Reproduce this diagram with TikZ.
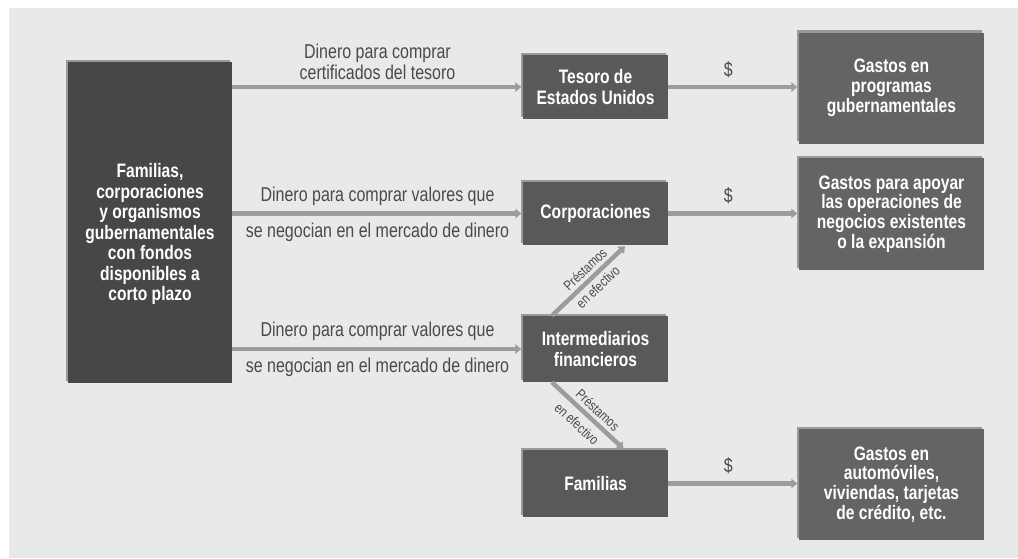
\documentclass[tikz,border=0pt]{standalone}
\usepackage{fontspec}
\setmainfont{Liberation Sans}[FakeStretch=0.8]
\usetikzlibrary{arrows.meta,shadows,calc}
\definecolor{bg}{HTML}{E8E9EB}
\definecolor{bigcol}{HTML}{474747}
\definecolor{boxcol}{HTML}{595959}
\definecolor{gcol}{HTML}{646464}
\definecolor{shcol}{HTML}{9A9A9A}
\definecolor{arrcol}{HTML}{9C9C9C}
\definecolor{lblcol}{HTML}{4A4A4A}
\begin{document}
\begin{tikzpicture}[x=1pt,y=-1pt,
  basebox/.style={text=white, font=\bfseries\fontsize{19.5}{20.5}\selectfont, align=center, inner sep=0pt,
    general shadow={fill=shcol, shadow xshift=-2.5pt, shadow yshift=2.5pt}},
  bigbox/.style={basebox, fill=bigcol, minimum width=164pt, minimum height=321pt},
  box/.style={basebox, fill=boxcol, minimum width=145pt, minimum height=64pt},
  gbox/.style={basebox, fill=gcol, minimum width=185pt, minimum height=111pt, font=\bfseries\fontsize{19.5}{19.8}\selectfont},
  boxtext/.style={text=white, font=\bfseries\fontsize{19.5}{20.5}\selectfont, align=center, inner sep=0pt},
  lbl/.style={text=lblcol, font=\fontsize{20}{21}\selectfont, align=center, inner sep=0pt},
  small/.style={text=lblcol, font=\fontsize{14}{15}\selectfont, inner sep=0pt},
  flow/.style={draw=arrcol, line width=4.5pt, -{Triangle[length=6pt,width=9.5pt]}, shorten >=1.5pt}
]
\useasboundingbox (0,0) rectangle (1018,558);
\fill[white] (0,0) rectangle (1018,558);
\fill[bg] (9,8) rectangle (1018,558);

% boxes
\node[bigbox] (fam) at (150,222.5) {};
\node[boxtext] (famtxt) at (150,234) {Familias,\\corporaciones\\y organismos\\gubernamentales\\con fondos\\disponibles a\\corto plazo};

\node[box] (tes) at (595.5,87) {Tesoro de\\Estados Unidos};
\node[box, minimum height=63pt] (corp) at (595.5,213.5) {Corporaciones};
\node[box, minimum height=66pt] (inter) at (595.5,349) {Intermediarios\\financieros};
\node[box, minimum height=67pt] (famb) at (595.5,483.5) {Familias};

\node[gbox] (g1) at (891.5,88) {Gastos en\\programas\\gubernamentales};
\node[gbox, minimum height=112pt] (g2) at (891.5,214) {Gastos para apoyar\\las operaciones de\\negocios existentes\\o la expansión};
\node[gbox] (g3) at (891.5,484.5) {Gastos en\\automóviles,\\viviendas, tarjetas\\de crédito, etc.};

% flows from the left box
\draw[flow] (fam.east |- tes.west) -- (tes.west)
  node[lbl, midway, above=5pt] {Dinero para comprar\\certificados del tesoro};
\draw[flow] (fam.east |- corp.west) -- (corp.west)
  node[lbl, midway, above=6pt] {Dinero para comprar valores que}
  node[lbl, midway, below=7pt] {se negocian en el mercado de dinero};
\draw[flow] (fam.east |- inter.west) -- (inter.west)
  node[lbl, midway, above=6pt] {Dinero para comprar valores que}
  node[lbl, midway, below=7pt] {se negocian en el mercado de dinero};

% spending flows
\draw[flow] (tes.east) -- (g1.west |- tes.east) node[lbl, pos=0.46, above=7pt] {\$};
\draw[flow] (corp.east) -- (g2.west |- corp.east) node[lbl, pos=0.46, above=7pt] {\$};
\draw[flow] (famb.east) -- (g3.west |- famb.east) node[lbl, pos=0.46, above=7pt] {\$};

% loans
\draw[flow] ($(inter.north west)!0.2!(inter.north east)$) -- ($(corp.south west)!0.71!(corp.south east)$)
  node[small, pos=0.55, sloped, above=3.5pt] {Préstamos}
  node[small, pos=0.52, sloped, below=3.5pt] {en efectivo};
\draw[flow] ($(inter.south west)!0.2!(inter.south east)$) -- ($(famb.north west)!0.7!(famb.north east)$)
  node[small, pos=0.53, sloped, above=3.5pt] {Préstamos}
  node[small, pos=0.47, sloped, below=6pt] {en efectivo};
\end{tikzpicture}
\end{document}
